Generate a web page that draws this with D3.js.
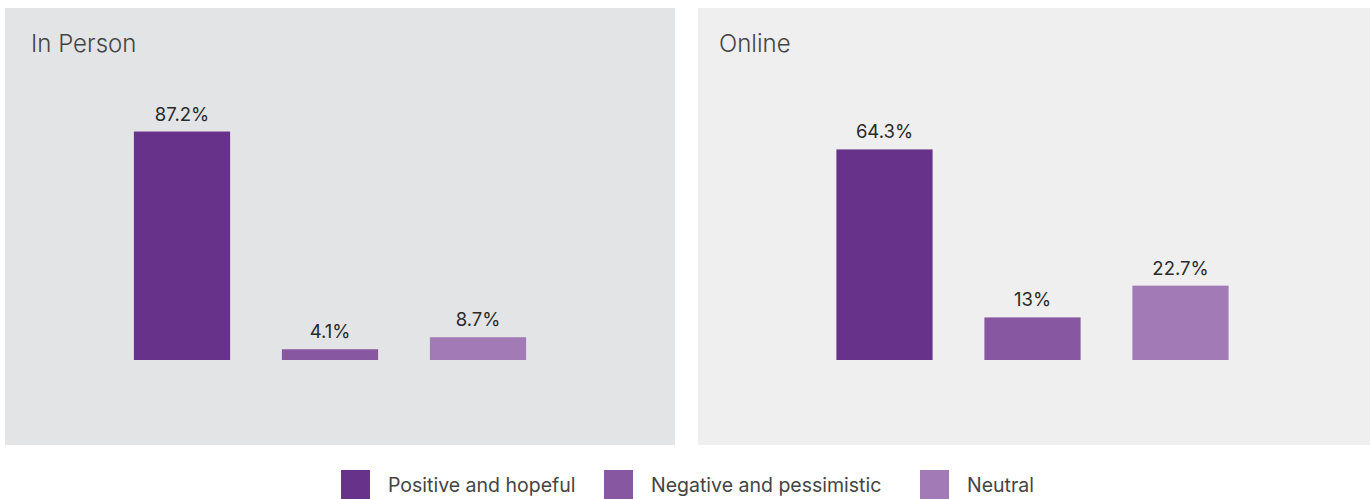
<!DOCTYPE html>
<html><head><meta charset="utf-8">
<script src="https://cdn.jsdelivr.net/npm/d3@7"></script>
<style>body{margin:0;background:#fff;} svg{display:block;font-family:Inter, "Open Sans", sans-serif;}</style>
</head><body>
<svg id="c" width="1370" height="499"></svg>
<script>
const categories = ["Positive and hopeful", "Negative and pessimistic", "Neutral"];
const panels = ["In Person", "Online"];
const inPersonValues = [87.2, 4.1, 8.7];
const onlineValues = [64.3, 13, 22.7];
const valueLabels = [["87.2%", "4.1%", "8.7%"], ["64.3%", "13%", "22.7%"]];
const yMax = [100, 80];
const colors = ["#67328a", "#8757a1", "#a27ab5"];
const panelBg = ["#e3e4e6", "#efefef"];

const svg = d3.select("#c");
const panelBoxes = [{x: 5, y: 8, w: 670, h: 437}, {x: 698, y: 8, w: 672, h: 437}];
const titleX = [31, 719];
const bandRanges = [[108, 552], [810.5, 1254.5]];
const seriesVals = [inPersonValues, onlineValues];
const color = d3.scaleOrdinal().domain(categories).range(colors);

panels.forEach((name, i) => {
  const b = panelBoxes[i];
  svg.append("rect").attr("x", b.x).attr("y", b.y).attr("width", b.w).attr("height", b.h).attr("fill", panelBg[i]);
  svg.append("text").attr("x", titleX[i]).attr("y", 52).text(name)
    .attr("font-size", 24).attr("font-weight", 300).attr("fill", "#444");
  const x = d3.scaleBand().domain(categories).range(bandRanges[i]).paddingInner(0.35).paddingOuter(0.175);
  const y = d3.scaleLinear().domain([0, yMax[i]]).range([360, 98]);
  const data = categories.map((c, j) => ({c, v: seriesVals[i][j], l: valueLabels[i][j]}));
  const g = svg.append("g");
  g.selectAll("rect").data(data).join("rect")
    .attr("x", d => x(d.c)).attr("width", x.bandwidth())
    .attr("y", d => y(d.v)).attr("height", d => y(0) - y(d.v))
    .attr("fill", d => color(d.c));
  g.selectAll("text").data(data).join("text")
    .attr("x", d => x(d.c) + x.bandwidth() / 2).attr("y", d => y(d.v) - 11)
    .attr("text-anchor", "middle").attr("font-size", 18.5).attr("fill", "#2a2a2a")
    .text(d => d.l);
});

// legend
const legendX = [341, 604, 920];
const lg = svg.append("g");
categories.forEach((c, j) => {
  lg.append("rect").attr("x", legendX[j]).attr("y", 470).attr("width", 29).attr("height", 29).attr("fill", color(c));
  lg.append("text").attr("x", legendX[j] + 47).attr("y", 492).text(c)
    .attr("font-size", 19.5).attr("fill", "#444");
});
</script>
</body></html>
